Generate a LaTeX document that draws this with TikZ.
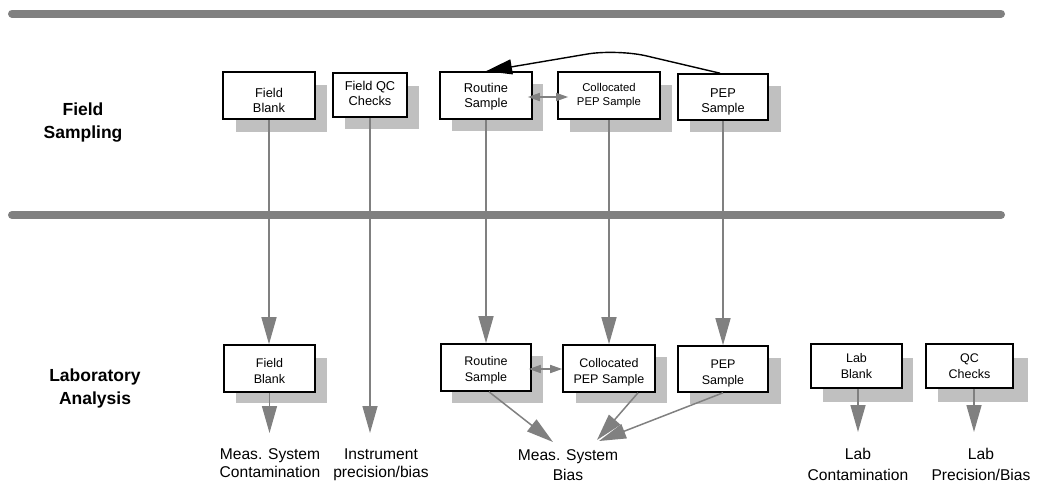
\documentclass[tikz,border=0pt]{standalone}
\usepackage{fontspec}
\setmainfont{Liberation Sans}
\usetikzlibrary{arrows.meta}
\definecolor{lgray}{HTML}{808080}
\definecolor{sgray}{HTML}{C0C0C0}
% two centred lines, lowered by #1 pt without changing the box size
\newcommand\boxtxt[3]{{\setbox0=\hbox{\begin{tabular}{@{}c@{}}#2\\#3\end{tabular}}%
  \dimen0=\ht0\relax\dimen2=\dp0\relax
  \setbox0=\hbox{\lower#1pt\box0}\ht0=\dimen0\relax\dp0=\dimen2\relax\box0}}
\tikzset{
  box/.style={draw=black, line width=1.6pt, fill=white, inner sep=0pt,
    font=\fontsize{12.8}{15}\selectfont},
  smallbox/.style={box, font=\fontsize{11.3}{14.5}\selectfont},
  labbox/.style={box, font=\fontsize{12.5}{15.5}\selectfont},
  bar/.style={draw=lgray, line width=8pt, line cap=round},
  conn/.style={draw=lgray, line width=1.5pt, -{Triangle[length=27pt,width=15pt]}, color=lgray},
  dbl/.style={draw=lgray, color=lgray, line width=1.6pt,
    {Triangle[length=12pt,width=8pt]}-{Triangle[length=12pt,width=8pt]}},
  loopback/.style={draw=black, line width=1.4pt, -{Triangle[length=26pt,width=15pt]}, rounded corners=30pt},
  outcome/.style={inner sep=0pt, align=center, anchor=north, font=\fontsize{15.6}{18}\selectfont},
  phase/.style={inner sep=0pt, align=center, font=\bfseries\fontsize{17.5}{23}\selectfont},
}
\begin{document}
\begin{tikzpicture}[x=1pt, y=-1pt]
\useasboundingbox (0,0) rectangle (1042,483);
% phase bars
\draw[bar] (12,13.5) -- (1001,13.5);
\draw[bar] (12,215) -- (1001,215);
% phase labels
\node[phase] (fs) at (83,123) {Field\\Sampling};
\node[phase] (la) at (95,388.5) {Laboratory\\Analysis};
% shadows (top)
\fill[sgray] (236,85) rectangle (327,132);
\fill[sgray] (345,86) rectangle (419,129);
\fill[sgray] (452,84) rectangle (543,131);
\fill[sgray] (570,85) rectangle (672,132);
\fill[sgray] (690,86) rectangle (781,132);
% shadows (lab)
\fill[sgray] (236,358) rectangle (327,403);
\fill[sgray] (452,356) rectangle (543,403);
\fill[sgray] (576,357) rectangle (667,403);
\fill[sgray] (690,358) rectangle (781,404);
\fill[sgray] (823,358) rectangle (913,402);
\fill[sgray] (938,358) rectangle (1028,402);
% top boxes
\node[box, minimum width=92, minimum height=47] (fbT) at (269,95.5) {\boxtxt{6.6}{Field}{Blank}};
\node[box, minimum width=74, minimum height=44] (qcT) at (370,95) {\boxtxt{0.2}{Field QC}{Checks}};
\node[box, minimum width=92, minimum height=47] (rsT) at (486,95.5) {\boxtxt{1.8}{Routine}{Sample}};
\node[smallbox, minimum width=102, minimum height=47] (cpT) at (609,95.5) {\boxtxt{0}{Collocated}{PEP Sample}};
\node[box, minimum width=90, minimum height=46] (pepT) at (723,97) {\boxtxt{5.3}{PEP}{Sample}};
% lab boxes
\node[labbox, minimum width=91, minimum height=47] (fbL) at (269.5,368.5) {\boxtxt{4.1}{Field}{Blank}};
\node[labbox, minimum width=90, minimum height=47] (rsL) at (486,367.5) {\boxtxt{2.8}{Routine}{Sample}};
\node[labbox, minimum width=92, minimum height=47] (cpL) at (609,368.5) {\boxtxt{3.8}{Collocated}{PEP Sample}};
\node[labbox, minimum width=90, minimum height=46] (pepL) at (723,369) {\boxtxt{4.3}{PEP}{Sample}};
\node[labbox, minimum width=91, minimum height=44] (lbL) at (856.5,366) {\boxtxt{1.6}{Lab}{Blank}};
\node[labbox, minimum width=87, minimum height=44] (qcL) at (969.5,366) {\boxtxt{1.6}{QC}{Checks}};
% outcomes
\node[outcome] (mc) at (270,448.8) {Meas. System\\Contamination};
\node[outcome] (ip) at (381,448.8) {Instrument\\precision/bias};
\node[outcome, font=\fontsize{15.6}{19.5}\selectfont] (mb) at (568,449.5) {Meas. System\\Bias};
\node[outcome, font=\fontsize{15.6}{20.5}\selectfont] (lc) at (858,448) {Lab\\Contamination};
\node[outcome, font=\fontsize{15.6}{20.5}\selectfont] (lp) at (981,448) {Lab\\Precision/Bias};
% arrow tip coordinates
\coordinate (tmc) at (270,433);
\coordinate (tip) at (370,433);
\coordinate (tb1) at (553,442);
\coordinate (tb2) at (597,440);
\coordinate (tb3) at (599,441);
\coordinate (tlc) at (858,432);
\coordinate (tlp) at (974,432);
\coordinate (peak) at (617,49);
% vertical connectors field -> lab
\draw[conn] (fbT.south) -- (fbT.south |- fbL.north);
\draw[conn] (rsT.south) -- (rsT.south |- rsL.north);
\draw[conn] (cpT.south) -- (cpT.south |- cpL.north);
\draw[conn] (pepT.south) -- (pepT.south |- pepL.north);
\draw[conn] (qcT.south) -- (tip);
% lab -> outcomes
\draw[conn] (fbL.south) -- (fbL.south |- tmc);
\draw[conn] ([xshift=3]rsL.south) -- (tb1);
\draw[conn] ([xshift=29]cpL.south) -- (tb2);
\draw[conn] (pepL.south) -- (tb3);
\draw[conn] ([xshift=1.5]lbL.south) -- (tlc);
\draw[conn] ([xshift=4.5]qcL.south) -- (tlp);
% double arrows
\draw[dbl] ([shift={(-5,1.5)}]rsT.east) -- ([shift={(11,1.5)}]cpT.west);
\draw[dbl] ([shift={(-3,1.5)}]rsL.east) -- ([shift={(0,0.5)}]cpL.west);
% loop back
\draw[loopback] ([xshift=-3]pepT.north) -- (peak) -- (rsT.north);
\end{tikzpicture}
\end{document}
